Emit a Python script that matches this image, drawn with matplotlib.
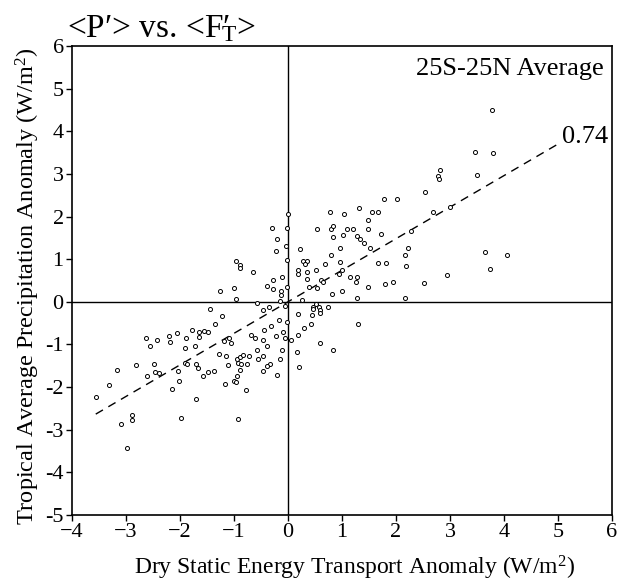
import matplotlib
matplotlib.use("Agg")
import matplotlib.pyplot as plt
import numpy as np

plt.rcParams["font.family"] = "Liberation Serif"
plt.rcParams["mathtext.fontset"] = "custom"
plt.rcParams["mathtext.rm"] = "Liberation Serif"
plt.rcParams["mathtext.it"] = "Liberation Serif:italic"

# dry static energy transport anomaly (W/m2)
fT = [
    0.00, -0.30, -0.01, -0.21, -0.23, -0.04, -0.02, -0.96, -0.88, -0.88,
    -0.64, -0.28, -0.12, -0.39, -0.27, -0.13, -0.13, -0.02, -1.25, -1.00,
    -0.96, -0.57, -0.14, -0.05, -1.44, -1.23, -0.47, -0.35, -0.17, -0.02,
    -1.36, -1.77, -1.65, -1.56, -1.49, -2.06, -2.20, -2.63, -2.42, -2.19,
    -1.89, -1.65, -2.56, -1.91, -1.72, -1.18, -1.09, -1.06, -0.69, -0.61,
    -0.44, -0.31, -0.22, -0.09, -0.05, 0.06, -0.47, -0.38, -0.12, -0.58,
    -1.27, -1.14, -0.94, -0.89, -0.84, -0.73, -0.56, -0.47, -0.15, -1.12,
    -0.93, -0.87, -0.76, -0.33, -0.38, -0.46, -0.21, -0.89, -0.94, -1.00,
    -0.96, -0.78, -1.17, -1.37, -1.48, -1.57, -1.70, -1.67, -1.91, -1.87,
    -2.04, -2.01, -2.14, -1.71, -2.48, -2.46, -2.38, -2.62, -2.82, -3.16,
    -3.31, -3.56, -3.09, -2.88, -2.89, -2.98, -1.99, -0.93, 0.16, 0.21,
    0.19, 0.19,
    0.23, 0.28, 0.35, 0.32, 0.18, 0.19, 0.36, 0.35, 0.51, 0.68,
    0.54, 0.77, 1.03, 1.31, 1.55, 1.67, 0.80, 0.83, 1.09, 1.20,
    1.48, 1.48, 0.83, 1.01, 1.27, 1.34, 1.41, 1.73, 0.96, 1.52,
    0.80, 0.96, 1.00, 0.95, 1.15, 1.28, 1.26, 0.61, 0.65, 0.39,
    0.53, 0.81, 1.00, 1.48, 1.28, 0.26, 1.67, 1.81, 1.79, 1.94,
    2.16, 2.22, 2.19, 2.28, 2.52, 2.16, 2.69, 3.00, 2.94, 3.64,
    3.75, 4.06, 0.46, 0.46, 0.52, 0.57, 0.59, 0.59, 0.74, 0.45,
    0.43, 0.29, 0.60, 0.83, 1.30,
    3.78, 3.46, 3.79, 2.82, 2.77, 2.79, 3.50, 2.54, 1.77, 2.01,
]

# tropical average precipitation anomaly (W/m2)
precip = [
    2.07, 1.74, 1.74, 1.47, 1.19, 1.31, 0.99, 0.95, 0.86, 0.80,
    0.71, 0.52, 0.57, 0.36, 0.31, 0.25, 0.15, 0.35, 0.25, 0.33,
    0.07, -0.02, 0.01, -0.09, -0.16, -0.34, -0.19, -0.12, -0.43, -0.48,
    -0.52, -0.65, -0.71, -0.68, -0.71, -0.73, -0.81, -0.86, -0.90, -0.94,
    -0.86, -0.82, -1.03, -1.08, -1.03, -0.92, -0.84, -0.96, -0.77, -0.85,
    -0.66, -0.56, -0.81, -0.70, -0.84, -0.89, -0.90, -1.03, -1.12, -1.13,
    -1.22, -1.28, -1.35, -1.30, -1.24, -1.27, -1.33, -1.28, -1.34, -1.48,
    -1.44, -1.47, -1.46, -1.45, -1.51, -1.62, -1.71, -1.61, -1.73, -1.85,
    -1.89, -2.07, -1.93, -1.62, -1.64, -1.75, -1.46, -1.55, -1.44, -1.46,
    -1.63, -1.85, -2.05, -2.28, -1.47, -1.64, -1.67, -1.74, -1.49, -1.61,
    -1.95, -2.24, -2.86, -2.65, -2.77, -3.43, -2.72, -2.75, -1.18, -1.53,
    -0.77, -0.29,
    1.24, 0.96, 0.95, 0.88, 0.74, 0.65, 0.71, 0.54, 0.74, 0.88,
    1.71, 2.10, 2.05, 2.21, 2.10, 2.10, 1.71, 1.78, 1.71, 1.71,
    1.91, 1.71, 1.53, 1.56, 1.55, 1.47, 1.39, 1.59, 1.27, 1.27,
    1.09, 0.94, 0.74, 0.66, 0.59, 0.59, 0.47, 0.51, 0.47, 0.34,
    0.32, 0.19, 0.26, 0.34, 0.10, 0.04, 0.92, 0.92, 0.42, 0.47,
    1.10, 1.26, 0.85, 1.67, 0.44, 0.09, 2.10, 2.22, 0.62, 1.17,
    0.77, 1.10, -0.12, -0.16, -0.06, -0.12, -0.19, -0.26, -0.12, -0.31,
    -0.53, -0.62, -0.96, -1.14, -0.53,
    4.50, 3.51, 3.48, 3.10, 2.95, 2.89, 2.98, 2.58, 2.41, 2.41,
]

# regression line
slope = 0.74
intercept = 0.0
fit_range = [-3.56, 5.0]
corr_label = "0.74"

x_ticks = [-4, -3, -2, -1, 0, 1, 2, 3, 4, 5, 6]
y_ticks = [-5, -4, -3, -2, -1, 0, 1, 2, 3, 4, 5, 6]


def main() -> None:
    fig = plt.figure(figsize=(6.2, 5.85), dpi=100)
    ax = fig.add_axes([0.1161, 0.1197, 0.871, 0.8017])

    ax.axhline(0, color="black", linewidth=1.0, zorder=1)
    ax.axvline(0, color="black", linewidth=1.0, zorder=1)

    ax.plot(fT, precip, linestyle="none", marker="o", markersize=2.9,
            markerfacecolor="white", markeredgecolor="black",
            markeredgewidth=0.7, zorder=3)

    xf = np.array(fit_range)
    ax.plot(xf, intercept + slope * xf, color="black", linewidth=1.0,
            dashes=(6, 4.5), zorder=2)
    ax.text(fit_range[1] + 0.08, intercept + slope * fit_range[1] + 0.17,
            corr_label, fontsize=19, ha="left", va="center")

    ax.set_xlim(-4, 6)
    ax.set_ylim(-5, 6)
    ax.set_xticks(x_ticks)
    ax.set_xticklabels([f"\u2212{abs(v)}" if v < 0 else str(v) for v in x_ticks])
    ax.set_yticks(y_ticks)
    ax.set_yticklabels([str(v) for v in y_ticks])
    ax.tick_params(direction="out", length=4, width=1.0, labelsize=16, pad=2)

    for sp in ax.spines.values():
        sp.set_linewidth(1.2)

    ax.set_xlabel("Dry Static Energy Transport Anomaly (W/m$^2$)", fontsize=17)
    ax.xaxis.set_label_coords(0.524, -0.083)
    ax.set_ylabel("Tropical Average Precipitation Anomaly (W/m$^2$)", fontsize=17.5)
    ax.yaxis.set_label_coords(-0.056, 0.488)

    ax.text(-0.01, 1.004, "<P\u2032> vs. <F\u2032$_{\\!\\!\\!\\mathrm{T}}$>",
            fontsize=24, transform=ax.transAxes, ha="left", va="bottom")
    ax.text(0.985, 0.975, "25S-25N Average", fontsize=19,
            transform=ax.transAxes, ha="right", va="top")

    fig.savefig("out.png", dpi=100)
    plt.close(fig)


if __name__ == "__main__":
    main()
